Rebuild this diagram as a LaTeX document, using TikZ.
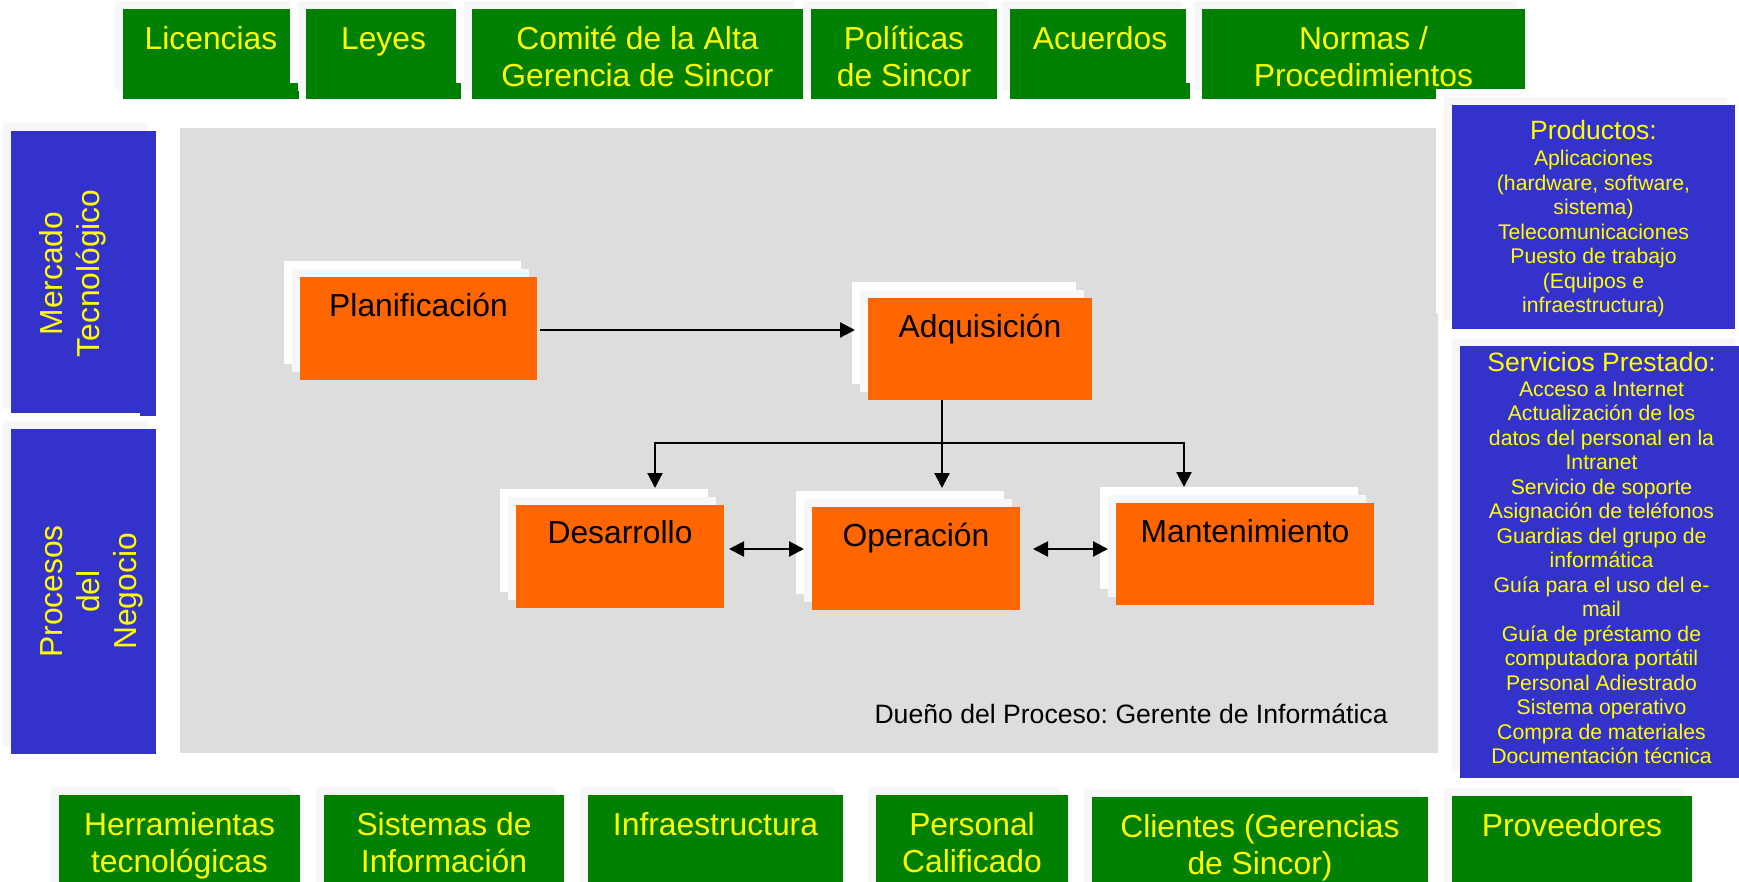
\documentclass[tikz,border=0pt]{standalone}
\usepackage{fontspec}
\setmainfont{Liberation Sans}
\usetikzlibrary{fit,calc,arrows.meta}
\definecolor{pgreen}{HTML}{008000}
\definecolor{pyellow}{HTML}{FFFF00}
\definecolor{pblue}{HTML}{3333CC}
\definecolor{porange}{HTML}{FF6600}
\definecolor{ppanel}{HTML}{DDDDDD}
\definecolor{pshade}{HTML}{F7F7F7}
\tikzset{
  lay/.style={inner sep=0pt, outer sep=0pt, draw=none},
  wlay/.style={lay, fill=white},
  slay/.style={lay, fill=pshade},
  big/.style={font=\fontsize{15.9}{18.5}\selectfont, align=center, inner sep=0pt, outer sep=0pt, anchor=north},
  gtxt/.style={big, text=pyellow},
  otxt/.style={big, text=black},
  rtxt/.style={font=\fontsize{10.6}{12.25}\selectfont, align=center, inner sep=0pt, outer sep=0pt, anchor=north, text=pyellow},
  arr/.style={line width=1.1pt, -{Triangle[length=7.5pt,width=7.5pt]}},
  darr/.style={line width=1.1pt, {Triangle[length=7.5pt,width=7.5pt]}-{Triangle[length=7.5pt,width=7.5pt]}}
}
\newcommand\tstrut{\rule{0pt}{1em}}
\newcommand\stackbox[6]{%
  \node[wlay, fit={(#2-16,#3-16) (#4-16,#5-16)}] (#1-w) {};
  \node[slay, fit={(#2-8,#3-8) (#4-8,#5-8)}] (#1-s) {};
  \node[lay, fill=#6, fit={(#2,#3) (#4,#5)}] (#1) {};
}
\frenchspacing
\begin{document}
\begin{tikzpicture}[x=0.5pt,y=-0.5pt]
\useasboundingbox (0,0) rectangle (1739,882);
\clip (0,0) rectangle (1739,882);

% top row
\stackbox{lic}{123}{9}{299}{99}{pgreen}
\stackbox{ley}{306}{9}{461}{99}{pgreen}
\stackbox{acu}{1010}{9}{1190}{99}{pgreen}
\stackbox{nor}{1202}{9}{1525}{99}{pgreen}
\stackbox{pol}{811}{9}{997}{99}{pgreen}
\stackbox{com}{472}{9}{803}{99}{pgreen}

% left column
\stackbox{mer}{11}{131}{156}{416}{pblue}
\stackbox{pro}{11}{429}{156}{754}{pblue}

% central panel
\node[lay, fill=ppanel, fit={(180,128) (1438,753)}] (panel) {};

% process boxes
\stackbox{pla}{300}{277}{537}{380}{porange}
\stackbox{adq}{868}{298}{1092}{400}{porange}
\stackbox{des}{516}{505}{724}{608}{porange}
\stackbox{ope}{812}{507}{1020}{610}{porange}
\stackbox{man}{1116}{503}{1374}{605}{porange}

% right column
\stackbox{prd}{1452}{105}{1735}{329}{pblue}
\stackbox{ser}{1460}{346}{1743}{778}{pblue}

% bottom row
\stackbox{her}{59}{795}{300}{890}{pgreen}
\stackbox{sis}{324}{795}{564}{890}{pgreen}
\stackbox{inf}{588}{795}{843}{890}{pgreen}
\stackbox{per}{876}{795}{1068}{890}{pgreen}
\stackbox{cli}{1092}{797}{1428}{890}{pgreen}
\stackbox{prv}{1452}{796}{1692}{890}{pgreen}

% texts top
\node[gtxt] (lic-t) at ($(lic.north)+(0,8.5)$) {\tstrut Licencias};
\node[gtxt] (ley-t) at ($(ley.north)+(0,8.5)$) {\tstrut Leyes};
\node[gtxt] (com-t) at ($(com.north)+(0,8.5)$) {\tstrut Comité de la Alta\\Gerencia de Sincor};
\node[gtxt] (pol-t) at ($(pol.north)+(0,8.5)$) {\tstrut Políticas\\de Sincor};
\node[gtxt] (acu-t) at ($(acu.north)+(0,8.5)$) {\tstrut Acuerdos};
\node[gtxt] (nor-t) at ($(nor.north)+(0,8.5)$) {\tstrut Normas /\\Procedimientos};

% texts left (rotated)
\node[gtxt, rotate=90] (mer-t) at ($(mer.west)+(19.5,0)$) {\tstrut Mercado\\Tecnológico};
\node[gtxt, rotate=90] (pro-t) at ($(pro.west)+(19.5,0)$) {\tstrut Procesos\\del\\Negocio};

% texts bottom
\node[gtxt] (her-t) at ($(her.north)+(0,9)$) {\tstrut Herramientas\\tecnológicas};
\node[gtxt] (sis-t) at ($(sis.north)+(0,9)$) {\tstrut Sistemas de\\Información};
\node[gtxt] (inf-t) at ($(inf.north)+(0,9)$) {\tstrut Infraestructura};
\node[gtxt] (per-t) at ($(per.north)+(0,9)$) {\tstrut Personal\\Calificado};
\node[gtxt] (cli-t) at ($(cli.north)+(0,9)$) {\tstrut Clientes (Gerencias\\de Sincor)};
\node[gtxt] (prv-t) at ($(prv.north)+(0,9)$) {\tstrut Proveedores};

% process texts
\node[otxt] (pla-t) at ($(pla.north)+(0,8)$) {\tstrut Planificación};
\node[otxt] (adq-t) at ($(adq.north)+(0,8)$) {\tstrut Adquisición};
\node[otxt] (des-t) at ($(des.north)+(0,7)$) {\tstrut Desarrollo};
\node[otxt] (ope-t) at ($(ope.north)+(0,8)$) {\tstrut Operación};
\node[otxt] (man-t) at ($(man.north)+(0,8)$) {\tstrut Mantenimiento};

% right texts
\node[rtxt] (prd-t) at ($(prd.north)+(0,8.4)$) {{\fontsize{13.25}{12.25}\selectfont\tstrut Productos:}\\[0.75pt]Aplicaciones\\(hardware, software,\\sistema)\\Telecomunicaciones\\Puesto de trabajo\\(Equipos e\\infraestructura)};
\node[rtxt] (ser-t) at ($(ser.north)+(0,-1.5)$) {{\fontsize{13.25}{12.25}\selectfont\tstrut Servicios Prestado:}\\[0.25pt]Acceso a Internet\\Actualización de los\\datos del personal en la\\Intranet\\Servicio de soporte\\Asignación de teléfonos\\Guardias del grupo de\\informática\\Guía para el uso del e-\\mail\\Guía de préstamo de\\computadora portátil\\Personal Adiestrado\\Sistema operativo\\Compra de materiales\\Documentación técnica};

% owner
\node[font=\fontsize{13.3}{15}\selectfont, anchor=base east, inner sep=0pt] (own) at ($(panel.south east)+(-50,-30)$) {Dueño del Proceso: Gerente de Informática};

% connectors
\coordinate (rowA) at (0,330);
\coordinate (bus) at (942,443);
\coordinate (dx) at (655,0);
\coordinate (mx) at (1184,0);
\coordinate (rowB) at (0,549);
\draw[arr] (pla.east |- rowA) ++(3,0) -- ($(adq-w.west |- rowA)+(3,0)$);
\draw[arr] (bus |- adq.south) -- ($(bus |- ope-w.north)+(0,-3)$);
\draw[arr] (bus) -| ($(dx |- des-w.north)+(0,-1)$);
\draw[arr] (bus) -| (mx |- man-w.north);
\draw[darr] ($(des.east |- rowB)+(5,0)$) -- (ope-s.west |- rowB);
\draw[darr] ($(ope.east |- rowB)+(13,0)$) -- (man-s.west |- rowB);
\end{tikzpicture}
\end{document}
